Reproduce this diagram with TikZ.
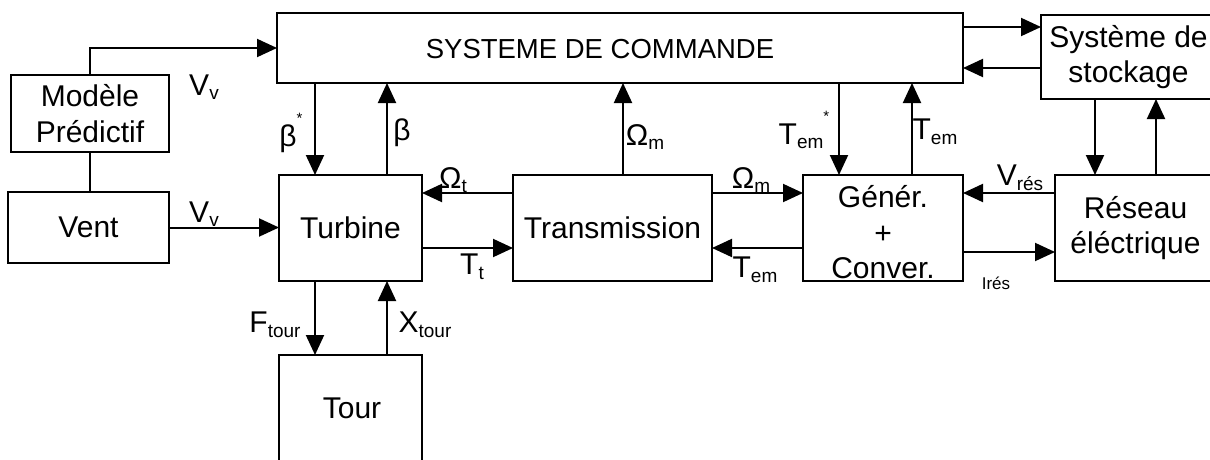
\documentclass[tikz,border=0pt]{standalone}
\usepackage{fontspec}
\setmainfont{Liberation Sans}
\usetikzlibrary{arrows.meta}
\newcommand{\mysub}[1]{\raisebox{-0.15em}{\fontsize{19}{19}\selectfont #1}}
\newcommand{\mystar}{\raisebox{0.75em}{\fontsize{15}{15}\selectfont *}}
\begin{document}
\begin{tikzpicture}[x=1pt,y=-1pt,
  box/.style={draw,line width=2pt,inner sep=0pt,outer sep=0pt,align=center,
    font=\fontsize{30}{35.5}\selectfont},
  conn/.style={line width=2pt,-{Triangle[length=20pt,width=18pt]}},
  plain/.style={line width=2pt},
  lbl/.style={inner sep=0pt,font=\fontsize{30}{32}\selectfont},
  small/.style={inner sep=0pt,font=\fontsize{17}{18}\selectfont}]
\useasboundingbox (0,0) rectangle (1210,460);
\clip (0,0) rectangle (1210,460);
% boxes
\node[box,minimum width=686pt,minimum height=70pt] (ctrl) at (620,48) {};
\node[lbl,font=\fontsize{27.5}{30}\selectfont] (ctrltxt) at (600,49) {SYSTEME DE COMMANDE};
\node[box,minimum width=158pt,minimum height=77pt] (pred) at (90,113.5) {Modèle\\Prédictif};
\node[box,minimum width=161pt,minimum height=71pt] (vent) at (88.5,227.5) {Vent};
\node[box,minimum width=143pt,minimum height=106pt] (turb) at (350.5,228) {Turbine};
\node[box,minimum width=199pt,minimum height=106pt] (trans) at (612.5,228) {Transmission};
\node[box,minimum width=160pt,minimum height=106pt] (gen) at (883,228) {};
\node[lbl,font=\fontsize{30}{35.5}\selectfont,align=center] (gentxt) at (883,232.5) {Génér.\\+\\Conver.};
\node[box,minimum width=161pt,minimum height=106pt] (res) at (1135.5,228) {Réseau\\éléctrique};
\node[box,minimum width=175pt,minimum height=84pt] (stock) at (1128.5,57) {Système de\\stockage};
\node[box,minimum width=143pt,minimum height=115pt] (tour) at (350.5,412.5) {};
\node[lbl] (tourtxt) at (352,408) {Tour};
% x positions of vertical connectors
\coordinate (xbs) at (315,0);
\coordinate (xb) at (387,0);
\coordinate (xom) at (623,0);
\coordinate (xts) at (839,0);
\coordinate (xt) at (912,0);
\coordinate (xsd) at (1095,0);
\coordinate (xsu) at (1156,0);
% y positions of horizontal connectors
\coordinate (yup) at (0,193);
\coordinate (ylo) at (0,248);
\coordinate (yi) at (0,252);
\coordinate (ys1) at (0,27);
\coordinate (ys2) at (0,68);
% connectors
\draw[conn] (pred.north) |- (ctrl.west);
\draw[plain] (pred.south) -- (pred.south |- vent.north);
\draw[conn] (vent.east) -- (turb.west |- vent.east);
\draw[conn] (ctrl.south -| xbs) -- (turb.north -| xbs);
\draw[conn] (turb.north -| xb) -- (ctrl.south -| xb);
\draw[conn] (trans.north -| xom) -- (ctrl.south -| xom);
\draw[conn] (ctrl.south -| xts) -- (gen.north -| xts);
\draw[conn] (gen.north -| xt) -- (ctrl.south -| xt);
\draw[conn] (trans.west |- yup) -- (turb.east |- yup);
\draw[conn] (turb.east |- ylo) -- (trans.west |- ylo);
\draw[conn] (trans.east |- yup) -- (gen.west |- yup);
\draw[conn] (gen.west |- ylo) -- (trans.east |- ylo);
\draw[conn] (res.west |- yup) -- (gen.east |- yup);
\draw[conn] (gen.east |- yi) -- (res.west |- yi);
\draw[conn] (ctrl.east |- ys1) -- (stock.west |- ys1);
\draw[conn] (stock.west |- ys2) -- (ctrl.east |- ys2);
\draw[conn] (stock.south -| xsd) -- (res.north -| xsd);
\draw[conn] (res.north -| xsu) -- (stock.south -| xsu);
\draw[conn] (turb.south -| xbs) -- (tour.north -| xbs);
\draw[conn] (tour.north -| xb) -- (turb.south -| xb);
% labels
\node[lbl] (l1) at (204,87) {V\mysub{v}};
\node[lbl] (l2) at (204,214) {V\mysub{v}};
\node[lbl] (l3) at (291,133) {β\mystar};
\node[lbl] (l4) at (402,133) {β};
\node[lbl] (l5) at (645,137) {Ω\mysub{m}};
\node[lbl] (l6) at (453,180) {Ω\mysub{t}};
\node[lbl] (l7) at (472,267) {T\mysub{t}};
\node[lbl] (l8) at (751,180) {Ω\mysub{m}};
\node[lbl] (l9) at (755,270) {T\mysub{em}};
\node[lbl] (l10) at (804,130) {T\mysub{em}\mystar};
\node[lbl] (l11) at (935,132) {T\mysub{em}};
\node[lbl] (l12) at (1020,178) {V\mysub{rés}};
\node[small] (l13) at (996,283) {Irés};
\node[lbl] (l14) at (275,325) {F\mysub{tour}};
\node[lbl] (l15) at (425,325) {X\mysub{tour}};
\end{tikzpicture}
\end{document}
